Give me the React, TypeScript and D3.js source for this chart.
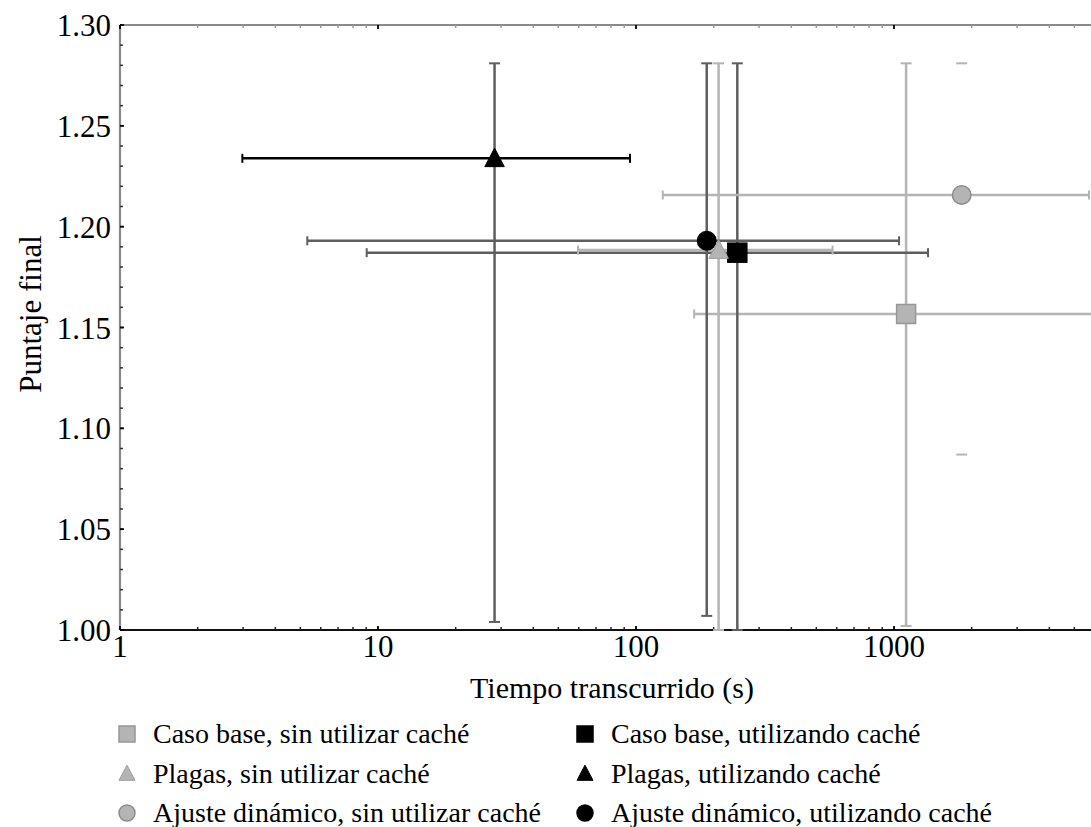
import React from "react";
import * as d3 from "d3";

// ---- data ----
const seriesNames = [
  "Caso base, sin utilizar caché",
  "Caso base, utilizando caché",
  "Plagas, sin utilizar caché",
  "Plagas, utilizando caché",
  "Ajuste dinámico, sin utilizar caché",
  "Ajuste dinámico, utilizando caché",
];
const shapes = ["square", "square", "triangle", "triangle", "circle", "circle"];
const xValues = [1114, 247, 209, 28.3, 1830, 188];
const xLow = [168, 9.04, 59.6, 2.98, 127, 5.32];
const xHigh = [9000, 1355, 578, 94.8, 5700, 1046];
const yValues = [1.1567, 1.1871, 1.1884, 1.2339, 1.2157, 1.193];
const yLow = [1.002, 1.0, 1.0, 1.004, 1.087, 1.007];
const yHigh = [1.281, 1.281, 1.281, 1.281, 1.281, 1.281];

const xMajorTicks = [1, 10, 100, 1000, 10000];
const xTickLabels = ["1", "10", "100", "1000"];
const yTickLabels = ["1.00", "1.05", "1.10", "1.15", "1.20", "1.25", "1.30"];

// ---- styles ----
const LIGHT = "#b4b4b4";
const LIGHT_EDGE = "#979797";
const DARK = "#5e5e5e";
const markerFill = [LIGHT, "#000", LIGHT, "#000", LIGHT, "#000"];
const markerStroke = [LIGHT_EDGE, "#000", "#9e9e9e", "#000", "#8c8c8c", "#000"];
const hColor = [LIGHT, DARK, LIGHT, "#000", LIGHT, DARK];
const vColor = [LIGHT, DARK, LIGHT, DARK, LIGHT, DARK];
const vLineVisible = [true, true, true, true, false, true];
const markerOrder = [4, 5, 0, 1, 2, 3];
const FONT = "'Liberation Serif', 'DejaVu Serif', serif";

const W = 1091;
const H = 827;
const L = 120, T = 25, B = 630, R = 1152;

function Marker({ shape, cx, cy, size, fill, stroke }: any) {
  if (shape === "square") {
    return <rect x={cx - size / 2} y={cy - size / 2} width={size} height={size} fill={fill} stroke={stroke} strokeWidth={1.5} />;
  }
  if (shape === "circle") {
    return <circle cx={cx} cy={cy} r={size / 2} fill={fill} stroke={stroke} strokeWidth={1.5} />;
  }
  const h = size * 0.95;
  const pts = [
    [cx, cy - h * 0.55],
    [cx - size / 2, cy + h * 0.45],
    [cx + size / 2, cy + h * 0.45],
  ];
  return <polygon points={pts.map((p) => p.join(",")).join(" ")} fill={fill} stroke={stroke} strokeWidth={1} />;
}

export default function App() {
  const x = d3.scaleLog().domain([1, 10000]).range([L, R]);
  const y = d3.scaleLinear().domain([1.0, 1.3]).range([B, T]);

  const xMinor: number[] = [];
  for (let dec = 1; dec < 10000; dec *= 10) {
    for (let k = 2; k <= 9; k++) xMinor.push(k * dec);
  }
  const yMinor: number[] = d3.range(0, 31).map((i) => 1 + i * 0.01);

  const capV = 5.5;
  const capH = 4.5;

  return (
    <svg width={W} height={H} style={{ position: "absolute", left: 0, top: 0, background: "#fff" }}>
      <rect x={0} y={0} width={W} height={H} fill="#fff" />
      {/* frame */}
      <line x1={L} y1={T} x2={R} y2={T} stroke="#8a8a8a" strokeWidth={2.2} />
      <line x1={L} y1={T} x2={L} y2={B} stroke="#8a8a8a" strokeWidth={2.2} />
      <line x1={L} y1={B} x2={R} y2={B} stroke="#111" strokeWidth={2.2} />

      {/* x ticks */}
      {xMinor.map((v) => (
        <g key={"xm" + v}>
          <line x1={x(v)} x2={x(v)} y1={B} y2={B - 3} stroke="#222" strokeWidth={1.5} />
          <line x1={x(v)} x2={x(v)} y1={T} y2={T + 3} stroke="#999" strokeWidth={1.5} />
        </g>
      ))}
      {xMajorTicks.map((v) => (
        <g key={"xM" + v}>
          <line x1={x(v)} x2={x(v)} y1={B} y2={B - 4} stroke="#000" strokeWidth={1.8} />
          <line x1={x(v)} x2={x(v)} y1={T} y2={T + 4} stroke="#000" strokeWidth={1.8} />
        </g>
      ))}
      {xTickLabels.map((t) => (
        <text key={"xl" + t} x={x(+t)} y={B + 27} textAnchor="middle" fontFamily={FONT} fontSize={31} fill="#000">
          {t}
        </text>
      ))}
      {/* y ticks */}
      {yMinor.map((v) => (
        <line key={"ym" + v} x1={L} x2={L + 3} y1={y(v)} y2={y(v)} stroke="#333" strokeWidth={1.5} />
      ))}
      {yTickLabels.map((t) => (
        <g key={"yM" + t}>
          <line x1={L} x2={L + 4} y1={y(+t)} y2={y(+t)} stroke="#000" strokeWidth={1.8} />
          <text x={111} y={y(+t) + 11} textAnchor="end" fontFamily={FONT} fontSize={31} fill="#000">
            {t}
          </text>
        </g>
      ))}

      {/* axis labels */}
      <text x={612} y={698} textAnchor="middle" fontFamily={FONT} fontSize={30} fill="#000">
        Tiempo transcurrido (s)
      </text>
      <text transform="translate(41,314) rotate(-90)" textAnchor="middle" fontFamily={FONT} fontSize={31} fill="#000">
        Puntaje final
      </text>

      {/* error bars */}
      {seriesNames.map((_, i) => {
        const cx = x(xValues[i]);
        const cy = y(yValues[i]);
        const x0 = x(xLow[i]);
        const x1 = x(xHigh[i]);
        const y0 = y(yLow[i]);
        const y1 = y(yHigh[i]);
        return (
          <g key={"eb" + i}>
            {vLineVisible[i] && <line x1={cx} x2={cx} y1={y0} y2={y1} stroke={vColor[i]} strokeWidth={2.5} />}
            <line x1={cx - capV} x2={cx + capV} y1={y1} y2={y1} stroke={vColor[i]} strokeWidth={2} />
            <line x1={cx - capV} x2={cx + capV} y1={y0} y2={y0} stroke={vColor[i]} strokeWidth={2} />
            <line x1={x0} x2={x1} y1={cy} y2={cy} stroke={hColor[i]} strokeWidth={2.5} />
            <line x1={x0} x2={x0} y1={cy - capH} y2={cy + capH} stroke={hColor[i]} strokeWidth={2} />
            <line x1={x1} x2={x1} y1={cy - capH} y2={cy + capH} stroke={hColor[i]} strokeWidth={2} />
          </g>
        );
      })}

      {/* markers */}
      {markerOrder.map((i) => (
        <Marker
          key={"mk" + i}
          shape={shapes[i]}
          cx={x(xValues[i])}
          cy={y(yValues[i])}
          size={shapes[i] === "square" ? 19 : shapes[i] === "triangle" ? 19.5 : 18.5}
          fill={markerFill[i]}
          stroke={markerStroke[i]}
        />
      ))}

      {/* legend */}
      {seriesNames.map((name, i) => {
        const col = i % 2;
        const row = Math.floor(i / 2);
        const mx = col === 0 ? 127 : 585;
        const ty = 743 + row * 39.5;
        return (
          <g key={"lg" + i}>
            <Marker shape={shapes[i]} cx={mx} cy={ty - 9} size={16} fill={markerFill[i]} stroke={markerStroke[i]} />
            <text x={mx + 26} y={ty} fontFamily={FONT} fontSize={28} fill="#000">
              {name}
            </text>
          </g>
        );
      })}
    </svg>
  );
}
